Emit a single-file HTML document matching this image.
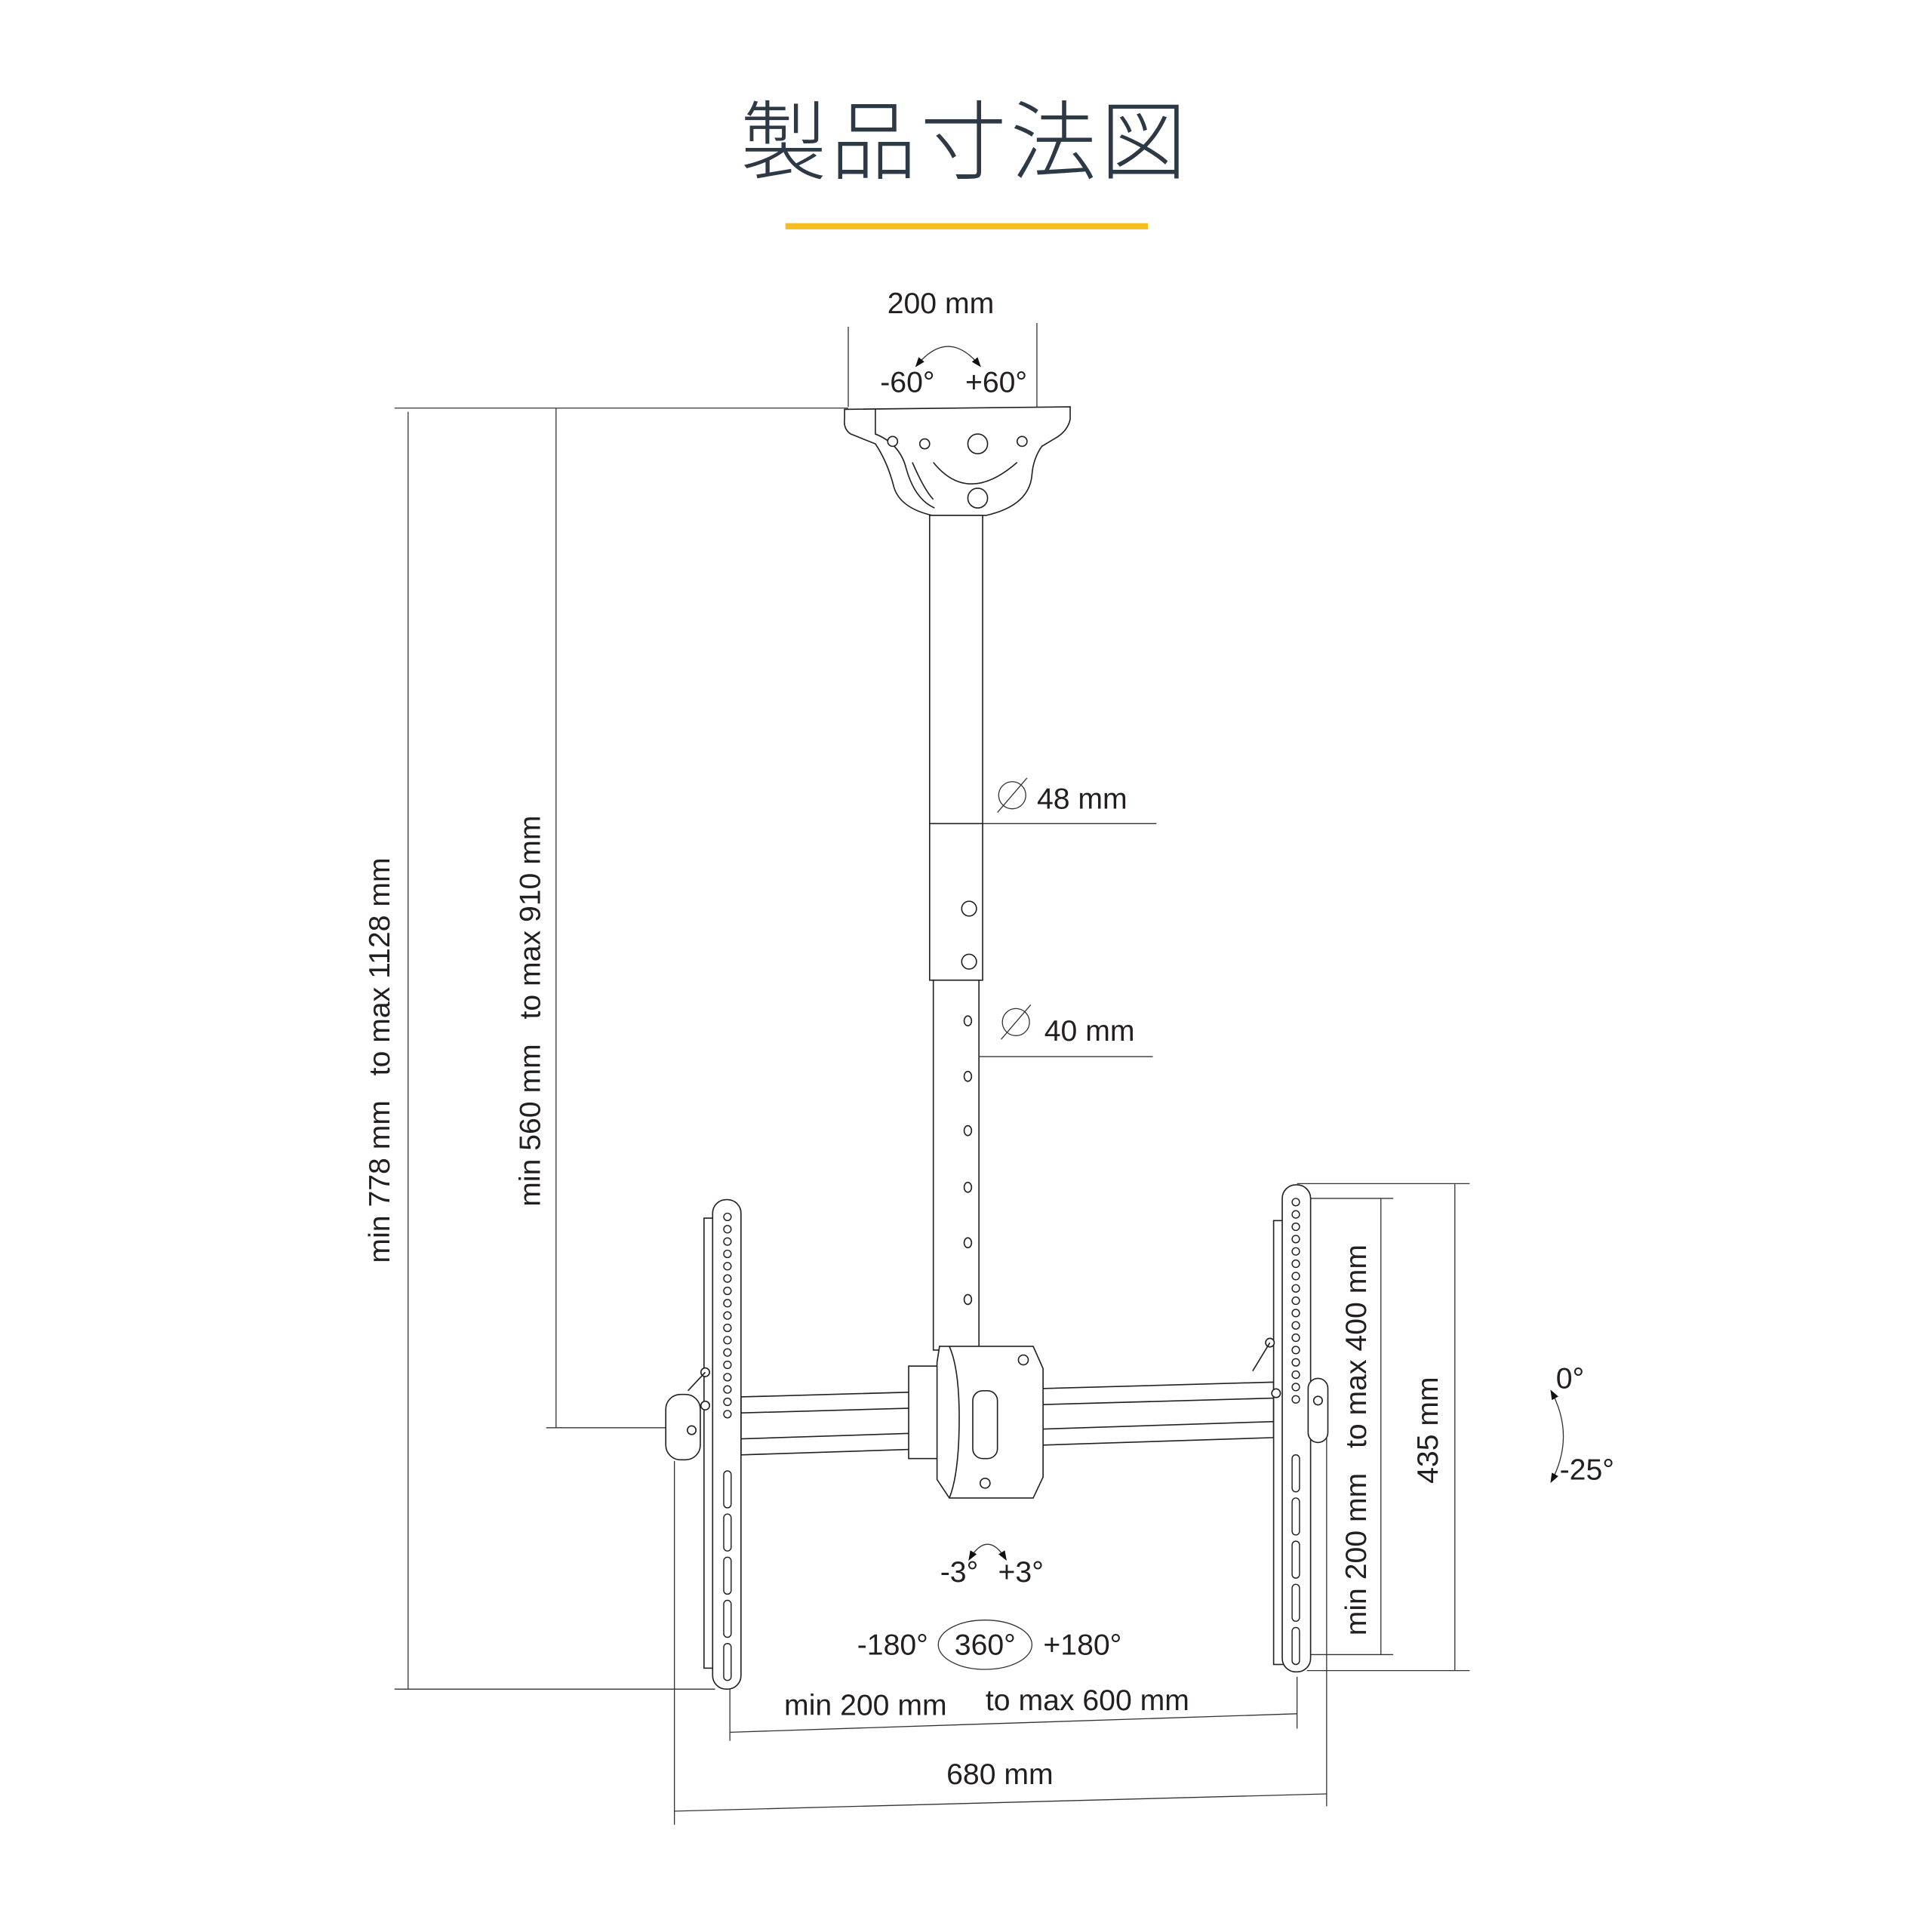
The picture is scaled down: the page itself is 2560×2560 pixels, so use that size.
<!DOCTYPE html>
<html><head><meta charset="utf-8"><style>
html,body{margin:0;padding:0;background:#fff;}
svg{display:block;}
text{font-family:"Liberation Sans","Noto Sans CJK JP",sans-serif;fill:#231f20;}
</style></head><body>
<svg width="2560" height="2560" viewBox="0 0 1567 1567" xmlns="http://www.w3.org/2000/svg">
<defs>
<marker id="ah" markerWidth="8" markerHeight="8" refX="7" refY="4" orient="auto-start-reverse" markerUnits="userSpaceOnUse"><path d="M0,1 L8,4 L0,7 Z" fill="#111"/></marker>
</defs>
<text x="783" y="140" font-size="70" font-weight="300" text-anchor="middle" style="fill:#2d3a45;font-family:'Noto Sans CJK JP',sans-serif;letter-spacing:3px">製品寸法図</text>
<rect x="637" y="181" width="294" height="5" fill="#f5bd1f"/>

<g stroke="#333" stroke-width="0.8" fill="none">
<line x1="688" y1="265" x2="688" y2="330"/><line x1="841" y1="262" x2="841" y2="330"/>
<line x1="320" y1="331" x2="688" y2="331"/>
<line x1="331" y1="334" x2="331" y2="1370"/><line x1="320" y1="1370" x2="580" y2="1370"/>
<line x1="451" y1="331" x2="451" y2="1158"/><line x1="443" y1="1158" x2="540" y2="1158"/>
<line x1="757" y1="668" x2="938" y2="668"/><line x1="757" y1="857" x2="935" y2="857"/>
<line x1="1052" y1="960" x2="1192" y2="960"/><line x1="1050" y1="972" x2="1130" y2="972"/>
<line x1="1120" y1="972" x2="1120" y2="1342"/><line x1="1055" y1="1342" x2="1130" y2="1342"/>
<line x1="1180" y1="960" x2="1180" y2="1355"/><line x1="1060" y1="1355" x2="1192" y2="1355"/>
<line x1="592" y1="1370" x2="592" y2="1412"/><line x1="1052" y1="1360" x2="1052" y2="1402"/>
<line x1="592" y1="1405" x2="1052" y2="1390"/>
<line x1="547" y1="1185" x2="547" y2="1480"/><line x1="1076" y1="1150" x2="1076" y2="1465"/>
<line x1="547" y1="1469" x2="1076" y2="1455"/>
<path d="M743,297 Q769,265 795,297" marker-start="url(#ah)" marker-end="url(#ah)"/>
<path d="M786,1265 Q801,1240 816,1265" marker-start="url(#ah)" marker-end="url(#ah)"/>
<path d="M1258,1128 Q1278,1165 1258,1202" marker-start="url(#ah)" marker-end="url(#ah)"/>
<ellipse cx="799" cy="1334" rx="38" ry="20"/>
<circle cx="821" cy="645" r="11"/><line x1="809" y1="659" x2="833" y2="631"/>
<circle cx="824" cy="829" r="11"/><line x1="812" y1="843" x2="836" y2="815"/>
</g>

<g stroke="#222" stroke-width="1" fill="#fff">
<path d="M685,332 L868,330 L868,340 Q866,350 855,356 L845,362 Q838,372 837,385 Q835,410 800,418 L756,418 Q730,412 725,395 Q720,375 710,360 L690,352 Q684,348 685,340 Z"/>
<path d="M710,332 L710,352 Q730,360 735,380 Q742,405 758,412"/>
<path d="M740,375 Q750,398 757,405" /><path d="M757,375 Q785,410 825,375"/>
<circle cx="793" cy="360" r="8"/><circle cx="793" cy="404" r="8"/>
<circle cx="750" cy="360" r="4"/><circle cx="829" cy="358" r="4"/><circle cx="724" cy="358" r="4"/>
<rect x="754" y="418" width="43" height="377"/>
<rect x="757" y="795" width="37" height="300"/>
<line x1="754" y1="668" x2="797" y2="668"/>
<circle cx="786" cy="737" r="6"/><circle cx="786" cy="780" r="6"/>
<ellipse cx="785" cy="828" rx="3" ry="4"/><ellipse cx="785" cy="873" rx="3" ry="4"/>
<ellipse cx="785" cy="917" rx="3" ry="4"/><ellipse cx="785" cy="963" rx="3" ry="4"/>
<ellipse cx="785" cy="1008" rx="3" ry="4"/><ellipse cx="785" cy="1054" rx="3" ry="4"/>
<path d="M601,1133 L1033,1121 L1033,1166 L601,1180 Z"/>
<line x1="601" y1="1146" x2="1033" y2="1134"/><line x1="601" y1="1167" x2="1033" y2="1153"/>
<rect x="737" y="1108" width="25" height="75"/>
<path d="M762,1092 L838,1092 L846,1110 L846,1198 L838,1215 L770,1215 L760,1200 L760,1105 Z"/>
<path d="M770,1092 Q778,1110 778,1150 Q778,1195 770,1215" fill="none"/>
<rect x="789" y="1128" width="20" height="55" rx="8"/>
<circle cx="830" cy="1103" r="4"/><circle cx="799" cy="1203" r="4"/>
<rect x="571" y="988" width="9" height="365"/>
<rect x="578" y="973" width="23" height="397" rx="11"/>
<rect x="540" y="1131" width="28" height="53" rx="12"/>
<circle cx="561" cy="1160" r="3.5"/><circle cx="572" cy="1113" r="3.5"/><circle cx="572" cy="1140" r="3.5"/>
<path d="M572,1113 L558,1128" fill="none"/>
<rect x="1033" y="990" width="9" height="360"/>
<rect x="1040" y="961" width="23" height="395" rx="11"/>
<rect x="1061" y="1118" width="16" height="52" rx="8"/>
<circle cx="1030" cy="1089" r="3.5"/><circle cx="1035" cy="1130" r="3.5"/><circle cx="1069" cy="1136" r="3.5"/>
<path d="M1030,1089 L1016,1112" fill="none"/>
</g>
<g stroke="#222" stroke-width="0.9" fill="none">
<circle cx="590" cy="987" r="3"/><circle cx="590" cy="997" r="3"/><circle cx="590" cy="1007" r="3"/><circle cx="590" cy="1017" r="3"/><circle cx="590" cy="1027" r="3"/><circle cx="590" cy="1037" r="3"/><circle cx="590" cy="1047" r="3"/><circle cx="590" cy="1057" r="3"/><circle cx="590" cy="1067" r="3"/><circle cx="590" cy="1077" r="3"/><circle cx="590" cy="1087" r="3"/><circle cx="590" cy="1097" r="3"/><circle cx="590" cy="1107" r="3"/><circle cx="590" cy="1117" r="3"/><circle cx="590" cy="1127" r="3"/><circle cx="590" cy="1137" r="3"/><circle cx="590" cy="1147" r="3"/>
<rect x="587" y="1193" width="6" height="30" rx="3"/><rect x="587" y="1228" width="6" height="30" rx="3"/><rect x="587" y="1263" width="6" height="30" rx="3"/><rect x="587" y="1298" width="6" height="30" rx="3"/><rect x="587" y="1333" width="6" height="30" rx="3"/>
<circle cx="1051" cy="975" r="3"/><circle cx="1051" cy="985" r="3"/><circle cx="1051" cy="995" r="3"/><circle cx="1051" cy="1005" r="3"/><circle cx="1051" cy="1015" r="3"/><circle cx="1051" cy="1025" r="3"/><circle cx="1051" cy="1035" r="3"/><circle cx="1051" cy="1045" r="3"/><circle cx="1051" cy="1055" r="3"/><circle cx="1051" cy="1065" r="3"/><circle cx="1051" cy="1075" r="3"/><circle cx="1051" cy="1085" r="3"/><circle cx="1051" cy="1095" r="3"/><circle cx="1051" cy="1105" r="3"/><circle cx="1051" cy="1115" r="3"/><circle cx="1051" cy="1125" r="3"/><circle cx="1051" cy="1135" r="3"/>
<rect x="1048" y="1180" width="6" height="30" rx="3"/><rect x="1048" y="1215" width="6" height="30" rx="3"/><rect x="1048" y="1250" width="6" height="30" rx="3"/><rect x="1048" y="1285" width="6" height="30" rx="3"/><rect x="1048" y="1320" width="6" height="30" rx="3"/>
</g>

<g font-size="24">
<text x="763" y="254" text-anchor="middle">200 mm</text>
<text x="736" y="318" text-anchor="middle">-60°</text>
<text x="808" y="318" text-anchor="middle">+60°</text>
<text x="841" y="656">48 mm</text>
<text x="847" y="844">40 mm</text>
<text x="1262" y="1126">0°</text>
<text x="1265" y="1200">-25°</text>
<text x="778" y="1283" text-anchor="middle">-3°</text>
<text x="828" y="1283" text-anchor="middle">+3°</text>
<text x="724" y="1342" text-anchor="middle">-180°</text>
<text x="799" y="1342" text-anchor="middle">360°</text>
<text x="878" y="1342" text-anchor="middle">+180°</text>
<text x="702" y="1391" text-anchor="middle">min 200 mm</text>
<text x="882" y="1387" text-anchor="middle">to max 600 mm</text>
<text x="811" y="1447" text-anchor="middle">680 mm</text>
<text transform="translate(316,860) rotate(-90)" text-anchor="middle" xml:space="preserve">min 778 mm   to max 1128 mm</text>
<text transform="translate(438,820) rotate(-90)" text-anchor="middle" xml:space="preserve">min 560 mm   to max 910 mm</text>
<text transform="translate(1108,1168) rotate(-90)" text-anchor="middle" xml:space="preserve">min 200 mm   to max 400 mm</text>
<text transform="translate(1166,1160) rotate(-90)" text-anchor="middle">435 mm</text>
</g>
</svg>
</body></html>
